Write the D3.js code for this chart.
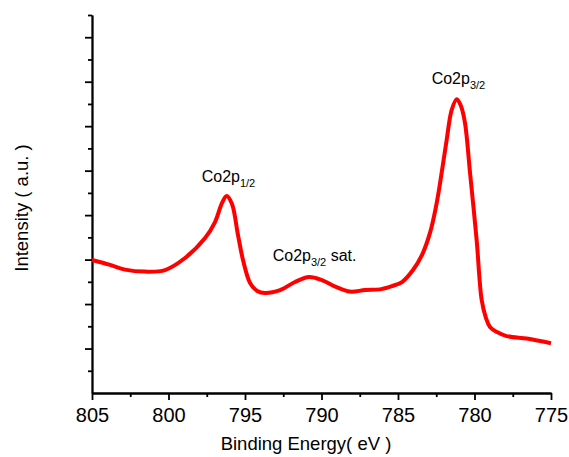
<!DOCTYPE html>
<html><head><meta charset="utf-8">
<script src="https://cdn.jsdelivr.net/npm/d3@7"></script>
<style>body{margin:0;background:#fff}svg{display:block}text{font-family:"Liberation Sans",Arial,sans-serif}</style>
</head><body>
<svg id="c" width="569" height="457"></svg>
<script>
const energy = [805,803.82,802.84,801.54,800.23,798.92,797.61,796.96,796.5,796.2,795.85,795.46,795.13,794.67,794.2,793.7,792.71,791.73,790.82,789.97,789.05,788.14,787.16,786.18,785.39,784.74,784.02,783.43,782.91,782.52,782.25,781.82,781.49,781.16,780.88,780.62,780.29,779.86,779.53,779.25,778.99,778.53,777.9,776.59,775.72,775];
const intensity = [5.98,5.76,5.55,5.46,5.53,6.07,6.97,7.69,8.55,8.86,8.5,7.11,5.98,4.95,4.59,4.5,4.63,4.99,5.22,5.08,4.77,4.56,4.63,4.66,4.81,4.99,5.53,6.21,7.2,8.37,9.44,11.38,12.73,13.21,12.9,12.14,9.89,6.88,4.18,3.37,2.97,2.74,2.56,2.45,2.34,2.24];
const xMajorTicks = [805,800,795,790,785,780,775];
const xMinorTicks = [802.5,797.5,792.5,787.5,782.5,777.5];
const yMajorTicks = [2,4,6,8,10,12,14,16];
const yMinorTicks = [1,3,5,7,9,11,13,15,17];
const labelMain = ["Co2p","Co2p","Co2p"];
const labelSub = ["1/2","3/2","3/2"];
const labelTail = [""," sat.",""];
const labelE = [797.83,793.19,782.8];
const labelV = [9.5,5.95,13.9];

const svg = d3.select("#c");
const x = d3.scaleLinear().domain([805,775]).range([92,551]);
const y = d3.scaleLinear().domain([0,17]).range([393,15]);

const gx = svg.append("g").attr("transform","translate(0,393)");
gx.call(d3.axisBottom(x).tickValues(xMajorTicks).tickSize(7).tickSizeOuter(0).tickPadding(8).tickFormat(d3.format("d")));
gx.append("g").call(d3.axisBottom(x).tickValues(xMinorTicks).tickSize(4).tickSizeOuter(0).tickFormat(""));
gx.selectAll("text").attr("font-size",20).attr("fill","#000").attr("font-family","Liberation Sans, Arial, sans-serif");

const gy = svg.append("g").attr("transform","translate(92,0)");
gy.call(d3.axisLeft(y).tickValues(yMajorTicks).tickSize(7).tickSizeOuter(0).tickFormat(""));
gy.append("g").call(d3.axisLeft(y).tickValues(yMinorTicks).tickSize(4).tickSizeOuter(0).tickFormat(""));
svg.selectAll(".domain, .tick line").attr("stroke","#000").attr("stroke-width",1.8);

const data = energy.map((e,i)=>({e, v:intensity[i]}));
svg.append("path").datum(data)
  .attr("fill","none").attr("stroke","#ff0000").attr("stroke-width",4).attr("stroke-linejoin","round")
  .attr("d", d3.line().x(d=>x(d.e)).y(d=>y(d.v)).curve(d3.curveCatmullRom.alpha(0.5)));

labelMain.forEach((m,i)=>{
  const t = svg.append("text").attr("x",x(labelE[i])).attr("y",y(labelV[i])).attr("font-size",16).attr("fill","#000");
  t.append("tspan").text(m);
  t.append("tspan").attr("font-size",11).attr("dy",5).text(labelSub[i]);
  if (labelTail[i]) t.append("tspan").attr("dy",-5).text(labelTail[i]);
});

svg.append("text").attr("x",306).attr("y",450).attr("text-anchor","middle").attr("font-size",18.5).text("Binding Energy( eV )");
svg.append("text").attr("transform","translate(28,208) rotate(-90)").attr("text-anchor","middle").attr("font-size",18.5).text("Intensity ( a.u. )");
</script>
</body></html>
